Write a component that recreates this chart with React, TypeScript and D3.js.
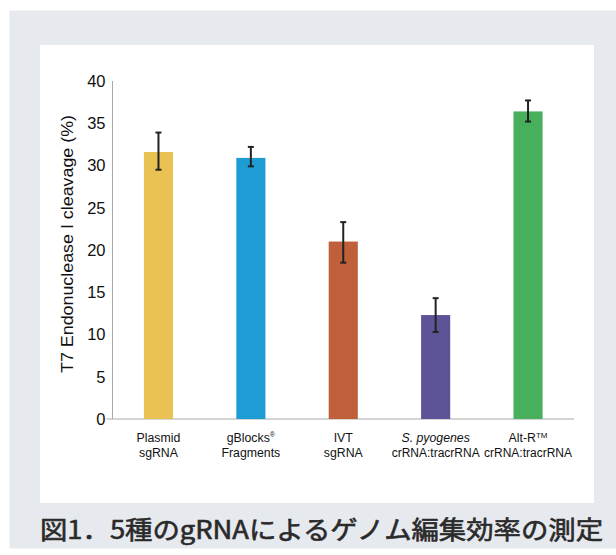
import React from "react";
import * as d3 from "d3";

const categories = ["Plasmid|sgRNA", "gBlocks®|Fragments", "IVT|sgRNA", "S. pyogenes|crRNA:tracrRNA", "Alt-R™|crRNA:tracrRNA"];
const values = [31.6, 30.9, 21.0, 12.3, 36.4];
const errHigh = [33.9, 32.2, 23.3, 14.3, 37.7];
const errLow = [29.5, 29.9, 18.5, 10.3, 35.2];
const colors = ["#e9c253", "#1e9dd5", "#c0603a", "#5d5397", "#48b05c"];
const yTicks = [0, 5, 10, 15, 20, 25, 30, 35, 40];
const yLabel = "T7 Endonuclease I cleavage (%)";
const caption = "図1．5種のgRNAによるゲノム編集効率の測定";

export default function App() {
  const W = 616, H = 555;
  const x0 = 112.5, x1 = 574;
  const y = d3.scaleLinear().domain([0, 40]).range([419, 81]);
  const x = d3.scaleBand().domain(categories).range([x0, x1]).paddingInner(0.685).paddingOuter(0.34);
  const font = "'Liberation Sans', Arial, Helvetica, sans-serif";
  return (
    <svg width={W} height={H} style={{ position: "absolute", left: 0, top: 0, fontFamily: font }}>
      <rect x={0} y={0} width={W} height={H} fill="#ffffff" />
      <rect x={9.5} y={10.5} width={W - 9.5} height={538} fill="#e6e9ee" />
      <rect x={40} y={45} width={554} height={458} fill="#ffffff" />
      <line x1={x0} x2={x0} y1={y(40)} y2={y(0)} stroke="#aaaaaa" strokeWidth={1} />
      <line x1={x0 - 6} x2={x1} y1={y(0)} y2={y(0)} stroke="#aaaaaa" strokeWidth={1} />
      {yTicks.map((t) => (
        <text key={t} x={105.5} y={y(t)} dy="0.36em" textAnchor="end" fontSize={16.5} fill="#111">{t}</text>
      ))}
      <text transform={`translate(73,244) rotate(-90)`} textAnchor="middle" fontSize={17} fill="#111" textLength={258} lengthAdjust="spacingAndGlyphs">{yLabel}</text>
      {categories.map((c, i) => {
        const bx = x(c)!;
        const cx = bx + x.bandwidth() / 2;
        const [l1, l2] = c.split("|");
        return (
          <g key={c}>
            <rect x={bx} y={y(values[i])} width={x.bandwidth()} height={y(0) - y(values[i])} fill={colors[i]} />
            <line x1={cx} x2={cx} y1={y(errHigh[i])} y2={y(errLow[i])} stroke="#222" strokeWidth={2} />
            <line x1={cx - 3} x2={cx + 3} y1={y(errHigh[i])} y2={y(errHigh[i])} stroke="#222" strokeWidth={2} />
            <line x1={cx - 3} x2={cx + 3} y1={y(errLow[i])} y2={y(errLow[i])} stroke="#222" strokeWidth={2} />
            <text x={cx} y={441.5} textAnchor="middle" fontSize={12.3} fill="#111" fontStyle={i === 3 ? "italic" : "normal"}>
              {l1 === "gBlocks®" ? (<>gBlocks<tspan fontSize={7} dy={-5}>®</tspan></>) : l1 === "Alt-R™" ? (<>Alt-R<tspan fontSize={8} dy={-4}>TM</tspan></>) : l1}
            </text>
            <text x={cx} y={457} textAnchor="middle" fontSize={12.3} fill="#111" textLength={l2.length > 10 ? 88 : undefined} lengthAdjust="spacingAndGlyphs">{l2}</text>
          </g>
        );
      })}
      <text x={40} y={539} fontSize={25.5} fontWeight={400} fill="#2a2a2a" stroke="#2a2a2a" strokeWidth={0.6} style={{ fontFamily: "'Noto Sans CJK JP', sans-serif" }} textLength={563} lengthAdjust="spacingAndGlyphs">{caption}</text>
    </svg>
  );
}
